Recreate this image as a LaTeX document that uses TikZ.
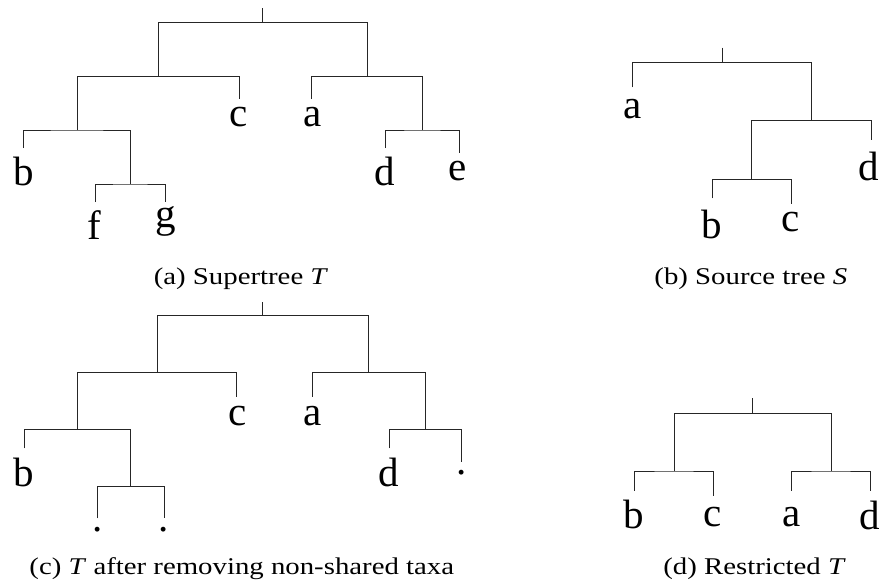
\documentclass[tikz,border=0pt]{standalone}
\usepackage{fontspec}
\usepackage{graphicx}
\setmainfont{Liberation Serif}
\tikzset{
  edge/.style={draw=black!85, line width=1pt},
  lab/.style={font=\fontsize{41}{41}\selectfont, inner sep=0pt, anchor=base},
  captext/.style={font=\fontsize{24}{24}\selectfont, inner sep=0pt, anchor=base},
}
\newcommand{\capx}[1]{\scalebox{1.2}[1]{#1}}
\begin{document}
\begin{tikzpicture}[x=1pt,y=-1pt]
\useasboundingbox (0,0) rectangle (881,587);

% ---------- (a) Supertree T ----------
\coordinate (aT) at (262.3,8);
\coordinate (aR) at (262.3,22.3);
\coordinate (aL) at (158,76.3);
\coordinate (aRt) at (367,76.3);
\coordinate (aLL) at (77,130);
\coordinate (aLLR) at (130,184);
\coordinate (aRR) at (422.3,130);
\coordinate (ab) at (23.3,148);
\coordinate (af) at (95,202);
\coordinate (ag) at (165.7,202);
\coordinate (ac) at (239,99);
\coordinate (aa) at (311.7,99);
\coordinate (ad) at (385.7,148);
\coordinate (ae) at (459.3,152.7);
\draw[edge] (aT) -- (aR);
\draw[edge] (aL) |- (aR) -| (aRt);
\draw[edge] (aLL) |- (aL) -| (ac);
\draw[edge] (ab) |- (aLL) -| (aLLR);
\draw[edge] (af) |- (aLLR) -| (ag);
\draw[edge] (aa) |- (aRt) -| (aRR);
\draw[edge] (ad) |- (aRR) -| (ae);
\node[lab] (Lab) at (23.3,185) {b};
\node[lab] (Laf) at (94.5,239) {f};
\node[lab] (Lag) at (165.8,227) {g};
\node[lab] (Lac) at (239,126) {c};
\node[lab] (Laa) at (312.5,126.5) {a};
\node[lab] (Lad) at (385,185) {d};
\node[lab] (Lae) at (458,180) {e};
\node[captext] (capa) at (241,284) {\capx{(a) Supertree \textit{T}}};

% ---------- (b) Source tree S ----------
\coordinate (bT) at (722.3,47.7);
\coordinate (bR) at (722.3,62.7);
\coordinate (bRt) at (811.3,120.7);
\coordinate (bRL) at (751.7,179.3);
\coordinate (ba) at (632.7,87.3);
\coordinate (bd) at (871,140);
\coordinate (bb) at (712.3,198.3);
\coordinate (bc) at (791,204);
\draw[edge] (bT) -- (bR);
\draw[edge] (ba) |- (bR) -| (bRt);
\draw[edge] (bRL) |- (bRt) -| (bd);
\draw[edge] (bb) |- (bRL) -| (bc);
\node[lab] (Lba) at (633,118) {a};
\node[lab] (Lbd) at (869,180) {d};
\node[lab] (Lbb) at (712,238.3) {b};
\node[lab] (Lbc) at (791,231.5) {c};
\node[captext] (capb) at (750.8,284) {\capx{(b) Source tree \textit{S}}};

% ---------- (c) T after removing non-shared taxa ----------
\coordinate (cT) at (262.7,302.3);
\coordinate (cR) at (262.7,315.7);
\coordinate (cL) at (157.3,372.7);
\coordinate (cRt) at (368.7,372.7);
\coordinate (cLL) at (77.7,429.3);
\coordinate (cLLR) at (130.7,486.7);
\coordinate (cRR) at (425.7,429.3);
\coordinate (cb) at (24.3,448.3);
\coordinate (cx1) at (97.3,518.3);
\coordinate (cx2) at (164,518.3);
\coordinate (cc) at (236.3,396.7);
\coordinate (ca) at (312.3,396.7);
\coordinate (cd) at (389,448.3);
\coordinate (cx3) at (461.7,461.7);
\draw[edge] (cT) -- (cR);
\draw[edge] (cL) |- (cR) -| (cRt);
\draw[edge] (cLL) |- (cL) -| (cc);
\draw[edge] (cb) |- (cLL) -| (cLLR);
\draw[edge] (cx1) |- (cLLR) -| (cx2);
\draw[edge] (ca) |- (cRt) -| (cRR);
\draw[edge] (cd) |- (cRR) -| (cx3);
\node[lab] (Lcb) at (23.3,486.7) {b};
\node[lab] (Lcx1) at (97.3,531) {.};
\node[lab] (Lcx2) at (164,531) {.};
\node[lab] (Lcc) at (238,425) {c};
\node[lab] (Lca) at (312.5,425.7) {a};
\node[lab] (Lcd) at (389,486.7) {d};
\node[lab] (Lcx3) at (461.7,474.3) {.};
\node[captext] (capc) at (241.8,574) {\capx{(c) \textit{T} after removing non-shared taxa}};

% ---------- (d) Restricted T ----------
\coordinate (dT) at (752.3,398.3);
\coordinate (dR) at (752.3,413.3);
\coordinate (dL) at (674,471);
\coordinate (dRt) at (831,471);
\coordinate (db) at (634,490.7);
\coordinate (dc) at (713.7,496);
\coordinate (da) at (791.3,490.7);
\coordinate (dd) at (870.7,490.7);
\draw[edge] (dT) -- (dR);
\draw[edge] (dL) |- (dR) -| (dRt);
\draw[edge] (db) |- (dL) -| (dc);
\draw[edge] (da) |- (dRt) -| (dd);
\node[lab] (Ldb) at (634,528.3) {b};
\node[lab] (Ldc) at (713,526) {c};
\node[lab] (Lda) at (791.7,526.7) {a};
\node[lab] (Ldd) at (870,529) {d};
\node[captext] (capd) at (754.5,574) {\capx{(d) Restricted \textit{T}}};
\end{tikzpicture}
\end{document}
